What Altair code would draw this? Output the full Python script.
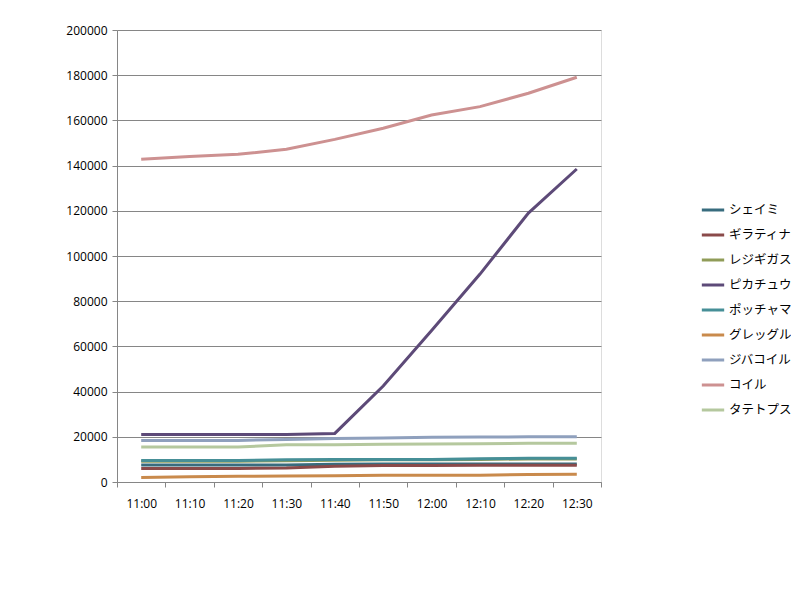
import altair as alt
import pandas as pd

times = ["11:00", "11:10", "11:20", "11:30", "11:40", "11:50", "12:00", "12:10", "12:20", "12:30"]
series_names = ["シェイミ", "ギラティナ", "レジギガス", "ピカチュウ", "ポッチャマ", "グレッグル", "ジバコイル", "コイル", "タテトプス"]
colors = ["#386c7e", "#8a4a4a", "#909c58", "#5d4a78", "#468f97", "#c98a4c", "#8fa0bd", "#cd9191", "#b5c89e"]

shaymin = [7500, 7500, 7500, 7500, 7800, 8000, 8000, 8000, 8000, 8000]
giratina = [6000, 6000, 6000, 6200, 7000, 7300, 7300, 7400, 7400, 7400]
regigigas = [9200, 9200, 9200, 9400, 9600, 9800, 9800, 10000, 10200, 10200]
pikachu = [21000, 21000, 21000, 21000, 21500, 42500, 67000, 92000, 119000, 138500]
piplup = [9500, 9500, 9500, 9800, 10000, 10000, 10000, 10300, 10500, 10500]
croagunk = [2000, 2300, 2500, 2600, 2800, 3000, 3000, 3000, 3300, 3400]
magnezone = [18400, 18400, 18400, 18800, 19200, 19500, 19800, 19900, 20000, 20000]
magnemite = [142800, 144000, 145000, 147200, 151600, 156500, 162400, 166100, 172000, 179100]
shieldon = [15500, 15500, 15500, 16500, 16500, 16700, 16800, 16900, 17200, 17200]

all_values = [shaymin, giratina, regigigas, pikachu, piplup, croagunk, magnezone, magnemite, shieldon]

rows = []
for order, (name, vals) in enumerate(zip(series_names, all_values)):
    for t, v in zip(times, vals):
        rows.append({"series": name, "time": t, "value": v, "ord": order})
df = pd.DataFrame(rows)

chart = alt.Chart(df).mark_line(strokeWidth=3).encode(
    x=alt.X(
        "time:N",
        bandPosition=0.5,
        sort=times,
        scale=alt.Scale(type="band", paddingInner=0, paddingOuter=0),
        axis=alt.Axis(
            title=None, labelAngle=0, tickBand="extent", grid=False,
            domainColor="#868686", tickColor="#868686", tickSize=5,
            labelFont="Open Sans", labelFontSize=12, labelColor="#000000",
            labelPadding=11,
        ),
    ),
    y=alt.Y(
        "value:Q",
        scale=alt.Scale(domain=[0, 200000], nice=False),
        axis=alt.Axis(
            title=None, values=list(range(0, 200001, 20000)), format="d",
            gridColor="#868686", gridWidth=1, domainColor="#868686",
            tickColor="#868686", tickSize=5, labelFont="Open Sans",
            labelFontSize=12, labelColor="#000000", labelPadding=5,
        ),
    ),
    color=alt.Color(
        "series:N",
        sort=series_names,
        scale=alt.Scale(domain=series_names, range=colors),
        legend=alt.Legend(
            title=None, orient="none", legendX=583, legendY=167,
            symbolType="stroke", symbolStrokeWidth=3, symbolSize=500,
            labelFont="Noto Sans CJK JP", labelFontSize=12.5, labelColor="#000000",
            rowPadding=5, labelOffset=3,
        ),
    ),
    order=alt.Order("ord:Q"),
    detail="series:N",
).properties(
    width=484,
    height=452,
    padding={"left": 109, "top": 22, "right": 190, "bottom": 110},
    autosize=alt.AutoSizeParams(type="none"),
).configure_view(stroke=None).configure(background="white")

chart.save("out.html", embed_options={"renderer": "svg", "actions": False})
